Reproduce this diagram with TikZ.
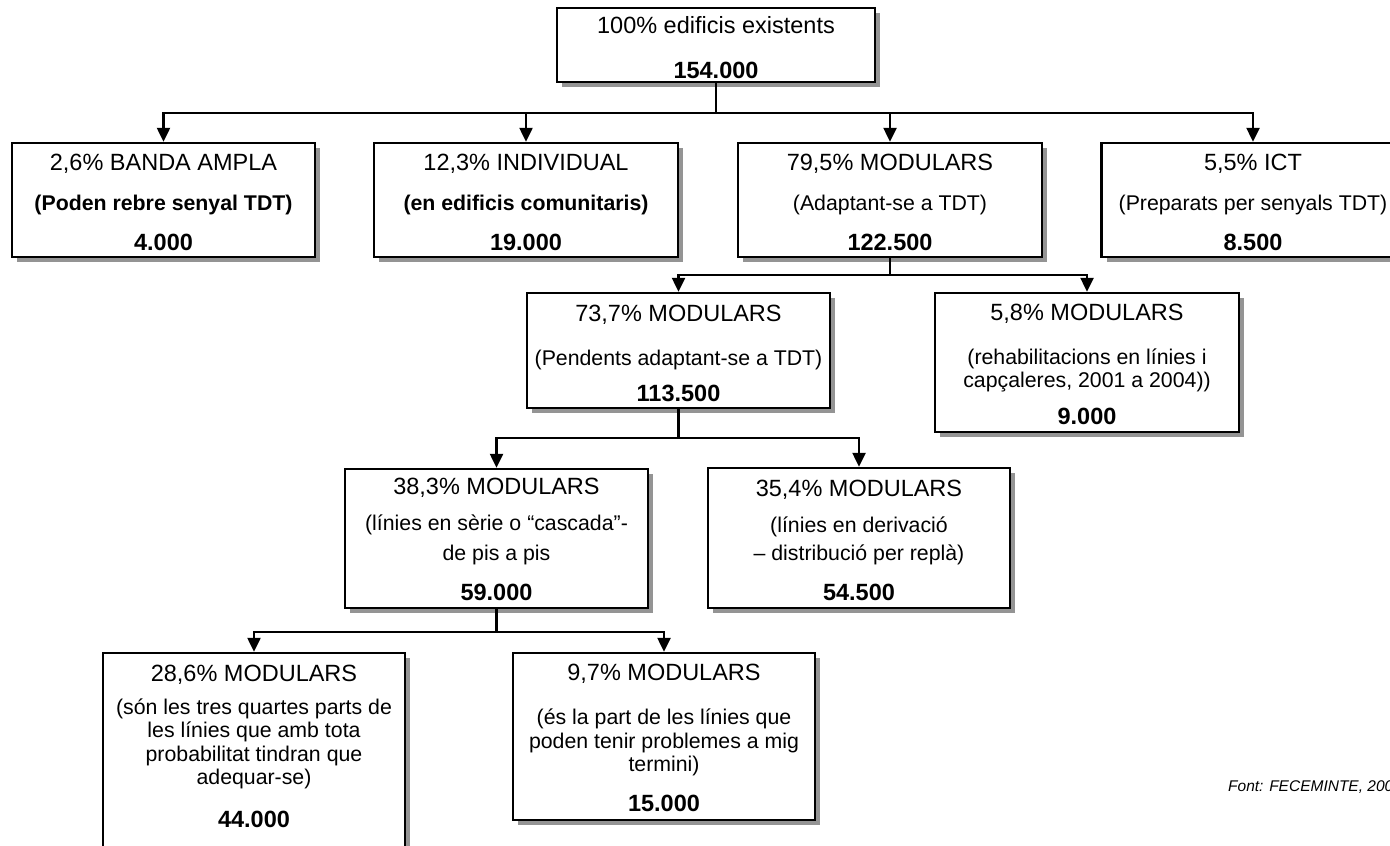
\documentclass[tikz,border=0pt]{standalone}
\usepackage{fontspec}
\setmainfont{Liberation Sans}
\usetikzlibrary{arrows.meta,shadows}
\newcommand\subtx[1]{{\fontsize{21.3}{23.5}\selectfont #1}}
\newcommand\padtop[1]{\mbox{}\\[#1]}
\begin{document}
\begin{tikzpicture}[x=1pt,y=-1pt]
\tikzset{
 box/.style={draw, line width=2.5pt, fill=white, rectangle, align=center, inner sep=0pt,
   font=\fontsize{23.5}{23.5}\selectfont,
   drop shadow={shadow xshift=5pt, shadow yshift=-5pt, fill=black!42, opacity=1}},
 conn/.style={line width=2.5pt},
 arr/.style={conn, -{Triangle[width=13pt,length=14pt]}},
 src/.style={font=\fontsize{15.5}{15.5}\selectfont\itshape, anchor=west, inner sep=0pt}
}
\useasboundingbox (0,0) rectangle (1390,846);

\node[box, minimum width=318pt, minimum height=74pt] (top) at (716,45)
  {\padtop{-1.3pt}100\% edificis existents\\[21.5pt]\textbf{154.000}};

\node[box, minimum width=303pt, minimum height=114pt] (b1) at (163.5,200)
  {\padtop{-2.3pt}2,6\% BANDA AMPLA\\[16.5pt]\subtx{\textbf{(Poden rebre senyal TDT)}}\\[16.5pt]\textbf{4.000}};
\node[box, minimum width=304pt, minimum height=114pt] (b2) at (526,200)
  {\padtop{-2.3pt}12,3\% INDIVIDUAL\\[16.5pt]\subtx{\textbf{(en edificis comunitaris)}}\\[16.5pt]\textbf{19.000}};
\node[box, minimum width=304pt, minimum height=114pt] (b3) at (890,200)
  {\padtop{-2.3pt}79,5\% MODULARS\\[16.5pt]\subtx{(Adaptant-se a TDT)}\\[16.5pt]\textbf{122.500}};
\node[box, minimum width=303pt, minimum height=114pt] (b4) at (1253,200)
  {\padtop{-2.3pt}5,5\% ICT\\[16.5pt]\subtx{(Preparats per senyals TDT)}\\[16.5pt]\textbf{8.500}};

\node[box, minimum width=303pt, minimum height=115pt] (c1) at (678.5,350.5)
  {\padtop{-1.3pt}73,7\% MODULARS\\[20pt]\subtx{(Pendents adaptant-se a TDT)}\\[12.5pt]\textbf{113.500}};
\node[box, minimum width=304pt, minimum height=139pt] (c2) at (1087,362.5)
  {\padtop{-2.3pt}5,8\% MODULARS\\[20pt]\subtx{(rehabilitacions en línies i}\\\subtx{capçaleres, 2001 a 2004))}\\[13.5pt]\textbf{9.000}};

\node[box, minimum width=303pt, minimum height=139pt] (d1) at (496.5,538.5)
  {\padtop{-4.3pt}38,3\% MODULARS\\[12.5pt]\subtx{(línies en sèrie o “cascada”-}\\[6.5pt]\subtx{de pis a pis}\\[16.5pt]\textbf{59.000}};
\node[box, minimum width=302pt, minimum height=140pt] (d2) at (859,538)
  {\padtop{-2.8pt}35,4\% MODULARS\\[13pt]\subtx{(línies en derivació}\\[4pt]\subtx{– distribució per replà)}\\[16.5pt]\textbf{54.500}};

\node[box, minimum width=302pt, minimum height=196pt] (e1) at (254,751)
  {28,6\% MODULARS\\[9.5pt]\subtx{(són les tres quartes parts de}\\\subtx{les línies que amb tota}\\\subtx{probabilitat tindran que}\\\subtx{adequar-se)}\\[19.5pt]\textbf{44.000}\\[-14pt]\mbox{}};
\node[box, minimum width=302pt, minimum height=167pt] (e2) at (664,736.5)
  {\padtop{-3.3pt}9,7\% MODULARS\\[20.5pt]\subtx{(és la part de les línies que}\\\subtx{poden tenir problemes a mig}\\\subtx{termini)}\\[16.5pt]\textbf{15.000}};

\node[src] (font) at (1228,787) {Font: FECEMINTE, 200};

\coordinate (j0) at (716,113);
\draw[conn] (top.south) -- (j0);
\foreach \n in {b1,b2,b3,b4} \draw[arr] (j0) -| (\n.north);

\coordinate (j1) at (890,275);
\draw[conn] (b3.south) -- (j1);
\foreach \n in {c1,c2} \draw[arr] (j1) -| (\n.north);

\coordinate (j2) at (678.5,438);
\draw[conn] (c1.south) -- (j2);
\foreach \n in {d1,d2} \draw[arr] (j2) -| (\n.north);

\coordinate (j3) at (496.5,632);
\draw[conn] (d1.south) -- (j3);
\foreach \n in {e1,e2} \draw[arr] (j3) -| (\n.north);
\end{tikzpicture}
\end{document}
